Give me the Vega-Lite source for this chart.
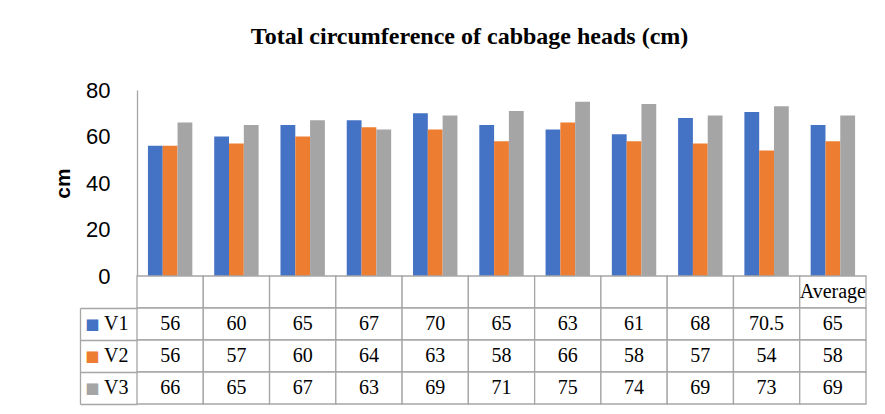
{
  "$schema": "https://vega.github.io/schema/vega-lite/v6.json",
  "padding": {"left": 52, "top": 25, "right": 5, "bottom": 5},
  "background": "white",
  "title": {"text": "Total circumference of cabbage heads (cm)", "font": "Liberation Serif", "fontSize": 24, "fontWeight": "bold", "color": "black", "anchor": "middle", "offset": 30, "dx": 10},
  "config": {"view": {"stroke": null}, "axis": {"domainColor": "#a6a6a6", "domainWidth": 1.3}},
  "spacing": 0,
  "bounds": "flush",
  "resolve": {"scale": {"x": "independent", "y": "independent"}},
  "datasets": {
    "values": [
      {"cat": "C1", "series": "V1", "value": 56}, {"cat": "C2", "series": "V1", "value": 60}, {"cat": "C3", "series": "V1", "value": 65}, {"cat": "C4", "series": "V1", "value": 67}, {"cat": "C5", "series": "V1", "value": 70}, {"cat": "C6", "series": "V1", "value": 65}, {"cat": "C7", "series": "V1", "value": 63}, {"cat": "C8", "series": "V1", "value": 61}, {"cat": "C9", "series": "V1", "value": 68}, {"cat": "C10", "series": "V1", "value": 70.5}, {"cat": "Average", "series": "V1", "value": 65},
      {"cat": "C1", "series": "V2", "value": 56}, {"cat": "C2", "series": "V2", "value": 57}, {"cat": "C3", "series": "V2", "value": 60}, {"cat": "C4", "series": "V2", "value": 64}, {"cat": "C5", "series": "V2", "value": 63}, {"cat": "C6", "series": "V2", "value": 58}, {"cat": "C7", "series": "V2", "value": 66}, {"cat": "C8", "series": "V2", "value": 58}, {"cat": "C9", "series": "V2", "value": 57}, {"cat": "C10", "series": "V2", "value": 54}, {"cat": "Average", "series": "V2", "value": 58},
      {"cat": "C1", "series": "V3", "value": 66}, {"cat": "C2", "series": "V3", "value": 65}, {"cat": "C3", "series": "V3", "value": 67}, {"cat": "C4", "series": "V3", "value": 63}, {"cat": "C5", "series": "V3", "value": 69}, {"cat": "C6", "series": "V3", "value": 71}, {"cat": "C7", "series": "V3", "value": 75}, {"cat": "C8", "series": "V3", "value": 74}, {"cat": "C9", "series": "V3", "value": 69}, {"cat": "C10", "series": "V3", "value": 73}, {"cat": "Average", "series": "V3", "value": 69}
    ],
    "header": [
      {"cat": "C1", "row": "h", "label": ""}, {"cat": "C2", "row": "h", "label": ""}, {"cat": "C3", "row": "h", "label": ""}, {"cat": "C4", "row": "h", "label": ""}, {"cat": "C5", "row": "h", "label": ""}, {"cat": "C6", "row": "h", "label": ""}, {"cat": "C7", "row": "h", "label": ""}, {"cat": "C8", "row": "h", "label": ""}, {"cat": "C9", "row": "h", "label": ""}, {"cat": "C10", "row": "h", "label": ""}, {"cat": "Average", "row": "h", "label": "Average"}
    ]
  },
  "vconcat": [
    {
      "width": 729,
      "height": 186,
      "data": {"name": "values"},
      "mark": {"type": "bar"},
      "encoding": {
        "x": {"field": "cat", "type": "nominal", "sort": null, "scale": {"domain": ["C1","C2","C3","C4","C5","C6","C7","C8","C9","C10","Average"], "paddingInner": 0.33, "paddingOuter": 0.165}, "axis": null},
        "xOffset": {"field": "series", "type": "nominal", "scale": {"domain": ["V1","V2","V3"], "paddingInner": 0, "paddingOuter": 0}},
        "y": {"field": "value", "type": "quantitative", "scale": {"domain": [0, 80]},
          "axis": {"values": [0, 20, 40, 60, 80], "title": "cm", "grid": false, "ticks": false, "labelPadding": 27, "labelFont": "Liberation Sans", "labelFontSize": 22, "labelColor": "black", "titleFont": "Liberation Sans", "titleFontSize": 21, "titleFontWeight": "bold", "titleColor": "black", "titlePadding": 12}},
        "color": {"field": "series", "type": "nominal", "scale": {"domain": ["V1","V2","V3"], "range": ["#4472C4","#ED7D31","#A5A5A5"]}, "legend": null}
      }
    },
    {
      "width": 729,
      "height": 128,
      "resolve": {"axis": {"y": "independent"}},
      "layer": [
        {
          "data": {"name": "header"},
          "mark": {"type": "rect", "fill": "white", "stroke": "#a6a6a6", "strokeWidth": 1.3},
          "encoding": {
            "x": {"field": "cat", "type": "nominal", "sort": null, "scale": {"domain": ["C1","C2","C3","C4","C5","C6","C7","C8","C9","C10","Average"], "paddingInner": 0, "paddingOuter": 0}, "axis": null},
            "y": {"field": "row", "type": "nominal", "sort": null, "scale": {"domain": ["h","V1","V2","V3"], "paddingInner": 0, "paddingOuter": 0},
              "axis": {"orient": "left", "title": null, "offset": 57, "ticks": false, "domain": true, "domainColor": "#a6a6a6", "domainWidth": 1.3, "domainDash": [0, 32, 200], "labelExpr": "datum.value === 'h' ? '' : '■'", "labelPadding": -19, "labelFont": "DejaVu Sans", "labelFontSize": 15,
                "labelColor": {"condition": [{"test": "datum.value === 'V1'", "value": "#4472C4"}, {"test": "datum.value === 'V2'", "value": "#ED7D31"}], "value": "#A5A5A5"}}}
          }
        },
        {
          "data": {"name": "values"},
          "mark": {"type": "rect", "fill": "white", "stroke": "#a6a6a6", "strokeWidth": 1.3},
          "encoding": {
            "x": {"field": "cat", "type": "nominal", "sort": null, "axis": null},
            "y": {"field": "series", "type": "nominal", "sort": null,
              "axis": {"orient": "left", "title": null, "ticks": false, "domain": false, "labelPadding": 9, "labelExpr": "datum.value === 'h' ? '' : datum.value", "labelFont": "Liberation Serif", "labelFontSize": 20, "labelColor": "black"}}
          }
        },
        {
          "data": {"name": "values"},
          "mark": {"type": "text", "font": "Liberation Serif", "fontSize": 20, "color": "black"},
          "encoding": {
            "x": {"field": "cat", "type": "nominal", "sort": null, "axis": null},
            "y": {"field": "series", "type": "nominal", "sort": null,
              "axis": {"orient": "left", "title": null, "labels": false, "domain": false, "ticks": true, "bandPosition": 1, "tickSize": 57, "tickColor": "#a6a6a6", "tickWidth": 1.3}},
            "text": {"field": "value", "type": "nominal"}
          }
        },
        {
          "data": {"name": "header"},
          "mark": {"type": "text", "font": "Liberation Serif", "fontSize": 20, "color": "black"},
          "encoding": {
            "x": {"field": "cat", "type": "nominal", "sort": null, "axis": null},
            "y": {"field": "row", "type": "nominal", "sort": null, "axis": null},
            "text": {"field": "label", "type": "nominal"}
          }
        }
      ]
    }
  ]
}
